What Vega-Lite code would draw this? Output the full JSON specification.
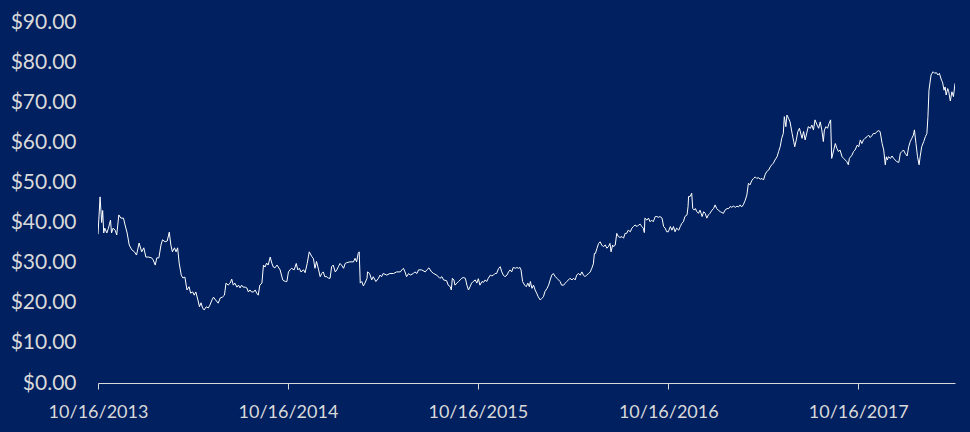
{
  "$schema": "https://vega.github.io/schema/vega-lite/v6.json",
  "width": 857,
  "height": 361,
  "autosize": {"type": "none"},
  "padding": {"left": 98, "top": 22, "right": 15, "bottom": 49},
  "background": "#002060",
  "data": {
    "values": [
      {"d": "2013/10/16", "v": 37.1}, {"d": "2013/10/20", "v": 46.4}, {"d": "2013/10/23", "v": 40.0}, {"d": "2013/10/25", "v": 43.0},
      {"d": "2013/10/27", "v": 37.4}, {"d": "2013/10/29", "v": 38.6}, {"d": "2013/11/02", "v": 37.4}, {"d": "2013/11/05", "v": 38.6},
      {"d": "2013/11/09", "v": 40.6}, {"d": "2013/11/11", "v": 37.4}, {"d": "2013/11/14", "v": 38.6}, {"d": "2013/11/18", "v": 38.1},
      {"d": "2013/11/21", "v": 36.9}, {"d": "2013/11/25", "v": 41.9}, {"d": "2013/11/29", "v": 41.1}, {"d": "2013/12/04", "v": 41.1},
      {"d": "2013/12/07", "v": 39.4}, {"d": "2013/12/11", "v": 37.4}, {"d": "2013/12/15", "v": 34.4}, {"d": "2013/12/20", "v": 33.2},
      {"d": "2013/12/25", "v": 32.7}, {"d": "2013/12/29", "v": 31.9}, {"d": "2014/01/03", "v": 34.9}, {"d": "2014/01/08", "v": 32.7},
      {"d": "2014/01/12", "v": 33.7}, {"d": "2014/01/16", "v": 31.4}, {"d": "2014/01/21", "v": 31.4}, {"d": "2014/01/27", "v": 31.2},
      {"d": "2014/01/30", "v": 30.7}, {"d": "2014/02/03", "v": 29.4}, {"d": "2014/02/06", "v": 31.2}, {"d": "2014/02/10", "v": 31.2},
      {"d": "2014/02/14", "v": 34.4}, {"d": "2014/02/17", "v": 35.7}, {"d": "2014/02/22", "v": 35.2}, {"d": "2014/02/26", "v": 35.4},
      {"d": "2014/03/02", "v": 37.6}, {"d": "2014/03/05", "v": 34.4}, {"d": "2014/03/08", "v": 32.7}, {"d": "2014/03/12", "v": 33.7},
      {"d": "2014/03/15", "v": 32.7}, {"d": "2014/03/18", "v": 33.7}, {"d": "2014/03/21", "v": 29.9}, {"d": "2014/03/25", "v": 26.9},
      {"d": "2014/03/28", "v": 26.2}, {"d": "2014/04/01", "v": 26.4}, {"d": "2014/04/05", "v": 23.2}, {"d": "2014/04/09", "v": 24.0},
      {"d": "2014/04/12", "v": 22.4}, {"d": "2014/04/16", "v": 22.7}, {"d": "2014/04/19", "v": 21.9}, {"d": "2014/04/22", "v": 22.7},
      {"d": "2014/04/26", "v": 20.7}, {"d": "2014/04/29", "v": 19.0}, {"d": "2014/05/02", "v": 20.0}, {"d": "2014/05/05", "v": 18.7},
      {"d": "2014/05/08", "v": 18.2}, {"d": "2014/05/12", "v": 19.0}, {"d": "2014/05/16", "v": 18.7}, {"d": "2014/05/19", "v": 19.4},
      {"d": "2014/05/23", "v": 20.7}, {"d": "2014/05/26", "v": 21.4}, {"d": "2014/05/30", "v": 20.7}, {"d": "2014/06/04", "v": 19.9},
      {"d": "2014/06/08", "v": 21.2}, {"d": "2014/06/12", "v": 21.4}, {"d": "2014/06/16", "v": 21.9}, {"d": "2014/06/19", "v": 24.9},
      {"d": "2014/06/23", "v": 24.4}, {"d": "2014/06/27", "v": 24.9}, {"d": "2014/06/30", "v": 25.9}, {"d": "2014/07/03", "v": 24.4},
      {"d": "2014/07/06", "v": 24.9}, {"d": "2014/07/10", "v": 23.9}, {"d": "2014/07/13", "v": 24.4}, {"d": "2014/07/16", "v": 23.7},
      {"d": "2014/07/19", "v": 24.4}, {"d": "2014/07/22", "v": 23.9}, {"d": "2014/07/26", "v": 23.9}, {"d": "2014/07/29", "v": 23.7},
      {"d": "2014/08/01", "v": 22.7}, {"d": "2014/08/04", "v": 23.2}, {"d": "2014/08/07", "v": 22.7}, {"d": "2014/08/11", "v": 22.7},
      {"d": "2014/08/14", "v": 23.2}, {"d": "2014/08/17", "v": 22.4}, {"d": "2014/08/20", "v": 21.9}, {"d": "2014/08/23", "v": 24.4},
      {"d": "2014/08/27", "v": 24.9}, {"d": "2014/08/30", "v": 29.4}, {"d": "2014/09/02", "v": 28.9}, {"d": "2014/09/05", "v": 29.9},
      {"d": "2014/09/08", "v": 29.4}, {"d": "2014/09/12", "v": 31.4}, {"d": "2014/09/15", "v": 29.9}, {"d": "2014/09/18", "v": 28.9},
      {"d": "2014/09/21", "v": 28.7}, {"d": "2014/09/25", "v": 29.4}, {"d": "2014/10/01", "v": 28.2}, {"d": "2014/10/06", "v": 25.7},
      {"d": "2014/10/11", "v": 25.3}, {"d": "2014/10/14", "v": 25.3}, {"d": "2014/10/17", "v": 27.7}, {"d": "2014/10/20", "v": 28.2},
      {"d": "2014/10/23", "v": 28.6}, {"d": "2014/10/28", "v": 28.2}, {"d": "2014/11/01", "v": 29.8}, {"d": "2014/11/04", "v": 28.2},
      {"d": "2014/11/07", "v": 28.6}, {"d": "2014/11/10", "v": 27.7}, {"d": "2014/11/15", "v": 28.2}, {"d": "2014/11/18", "v": 27.5},
      {"d": "2014/11/22", "v": 29.8}, {"d": "2014/11/26", "v": 32.7}, {"d": "2014/12/01", "v": 31.5}, {"d": "2014/12/04", "v": 31.0},
      {"d": "2014/12/07", "v": 28.6}, {"d": "2014/12/10", "v": 30.3}, {"d": "2014/12/14", "v": 28.2}, {"d": "2014/12/17", "v": 26.5},
      {"d": "2014/12/20", "v": 27.3}, {"d": "2014/12/23", "v": 27.7}, {"d": "2014/12/26", "v": 26.5}, {"d": "2014/12/30", "v": 26.5},
      {"d": "2015/01/02", "v": 26.1}, {"d": "2015/01/05", "v": 26.1}, {"d": "2015/01/08", "v": 29.0}, {"d": "2015/01/11", "v": 29.4},
      {"d": "2015/01/15", "v": 27.7}, {"d": "2015/01/18", "v": 28.2}, {"d": "2015/01/21", "v": 29.0}, {"d": "2015/01/24", "v": 29.8},
      {"d": "2015/01/27", "v": 29.4}, {"d": "2015/01/31", "v": 28.6}, {"d": "2015/02/03", "v": 29.8}, {"d": "2015/02/06", "v": 30.0},
      {"d": "2015/02/12", "v": 30.2}, {"d": "2015/02/19", "v": 30.2}, {"d": "2015/02/22", "v": 31.1}, {"d": "2015/02/25", "v": 30.2},
      {"d": "2015/02/28", "v": 32.3}, {"d": "2015/03/02", "v": 32.7}, {"d": "2015/03/04", "v": 24.9}, {"d": "2015/03/07", "v": 25.3},
      {"d": "2015/03/10", "v": 24.2}, {"d": "2015/03/13", "v": 24.9}, {"d": "2015/03/17", "v": 26.1}, {"d": "2015/03/18", "v": 27.7},
      {"d": "2015/03/22", "v": 27.3}, {"d": "2015/03/26", "v": 25.7}, {"d": "2015/03/29", "v": 26.5}, {"d": "2015/04/03", "v": 25.3},
      {"d": "2015/04/08", "v": 26.1}, {"d": "2015/04/11", "v": 26.9}, {"d": "2015/04/14", "v": 26.5}, {"d": "2015/04/17", "v": 27.3},
      {"d": "2015/04/24", "v": 26.9}, {"d": "2015/04/30", "v": 27.3}, {"d": "2015/05/07", "v": 27.3}, {"d": "2015/05/13", "v": 27.7},
      {"d": "2015/05/20", "v": 27.7}, {"d": "2015/05/23", "v": 28.2}, {"d": "2015/05/26", "v": 28.6}, {"d": "2015/05/29", "v": 27.7},
      {"d": "2015/06/01", "v": 26.5}, {"d": "2015/06/05", "v": 27.3}, {"d": "2015/06/08", "v": 26.9}, {"d": "2015/06/14", "v": 27.3},
      {"d": "2015/06/17", "v": 27.7}, {"d": "2015/06/21", "v": 27.3}, {"d": "2015/06/24", "v": 28.2}, {"d": "2015/06/30", "v": 28.2},
      {"d": "2015/07/07", "v": 27.7}, {"d": "2015/07/10", "v": 28.2}, {"d": "2015/07/14", "v": 28.7}, {"d": "2015/07/19", "v": 27.7},
      {"d": "2015/07/23", "v": 27.3}, {"d": "2015/07/29", "v": 26.9}, {"d": "2015/08/04", "v": 26.1}, {"d": "2015/08/08", "v": 26.5},
      {"d": "2015/08/11", "v": 25.7}, {"d": "2015/08/17", "v": 25.5}, {"d": "2015/08/20", "v": 24.4}, {"d": "2015/08/24", "v": 24.0},
      {"d": "2015/08/26", "v": 23.2}, {"d": "2015/08/28", "v": 26.1}, {"d": "2015/08/31", "v": 25.7}, {"d": "2015/09/02", "v": 24.4},
      {"d": "2015/09/06", "v": 24.9}, {"d": "2015/09/09", "v": 25.3}, {"d": "2015/09/12", "v": 25.7}, {"d": "2015/09/15", "v": 26.1},
      {"d": "2015/09/18", "v": 26.3}, {"d": "2015/09/22", "v": 26.1}, {"d": "2015/09/25", "v": 24.4}, {"d": "2015/09/28", "v": 23.2},
      {"d": "2015/10/01", "v": 24.0}, {"d": "2015/10/04", "v": 24.9}, {"d": "2015/10/07", "v": 25.3}, {"d": "2015/10/11", "v": 25.7},
      {"d": "2015/10/14", "v": 24.9}, {"d": "2015/10/17", "v": 26.0}, {"d": "2015/10/20", "v": 24.4}, {"d": "2015/10/24", "v": 25.3},
      {"d": "2015/10/27", "v": 25.1}, {"d": "2015/10/30", "v": 25.7}, {"d": "2015/11/02", "v": 25.3}, {"d": "2015/11/05", "v": 26.1},
      {"d": "2015/11/09", "v": 26.9}, {"d": "2015/11/12", "v": 26.7}, {"d": "2015/11/15", "v": 26.9}, {"d": "2015/11/18", "v": 27.3},
      {"d": "2015/11/21", "v": 27.3}, {"d": "2015/11/25", "v": 28.6}, {"d": "2015/11/28", "v": 29.0}, {"d": "2015/12/01", "v": 27.7},
      {"d": "2015/12/04", "v": 26.9}, {"d": "2015/12/07", "v": 26.5}, {"d": "2015/12/11", "v": 26.9}, {"d": "2015/12/14", "v": 27.7},
      {"d": "2015/12/17", "v": 28.2}, {"d": "2015/12/20", "v": 27.7}, {"d": "2015/12/23", "v": 28.8}, {"d": "2015/12/27", "v": 28.6},
      {"d": "2015/12/30", "v": 28.8}, {"d": "2016/01/02", "v": 28.6}, {"d": "2016/01/05", "v": 28.8}, {"d": "2016/01/07", "v": 28.2},
      {"d": "2016/01/10", "v": 25.3}, {"d": "2016/01/14", "v": 24.4}, {"d": "2016/01/17", "v": 24.0}, {"d": "2016/01/20", "v": 24.9},
      {"d": "2016/01/23", "v": 24.0}, {"d": "2016/01/25", "v": 25.3}, {"d": "2016/01/28", "v": 23.6}, {"d": "2016/01/31", "v": 24.4},
      {"d": "2016/02/03", "v": 23.2}, {"d": "2016/02/06", "v": 22.4}, {"d": "2016/02/09", "v": 21.5}, {"d": "2016/02/13", "v": 20.7},
      {"d": "2016/02/16", "v": 21.1}, {"d": "2016/02/19", "v": 21.5}, {"d": "2016/02/22", "v": 22.8}, {"d": "2016/02/26", "v": 23.6},
      {"d": "2016/02/29", "v": 24.4}, {"d": "2016/03/03", "v": 25.7}, {"d": "2016/03/06", "v": 26.9}, {"d": "2016/03/09", "v": 27.3},
      {"d": "2016/03/13", "v": 26.5}, {"d": "2016/03/16", "v": 26.1}, {"d": "2016/03/19", "v": 25.7}, {"d": "2016/03/22", "v": 25.3},
      {"d": "2016/03/25", "v": 24.4}, {"d": "2016/03/29", "v": 24.4}, {"d": "2016/04/01", "v": 24.9}, {"d": "2016/04/04", "v": 25.3},
      {"d": "2016/04/07", "v": 25.7}, {"d": "2016/04/10", "v": 26.1}, {"d": "2016/04/14", "v": 25.7}, {"d": "2016/04/17", "v": 26.1},
      {"d": "2016/04/20", "v": 25.7}, {"d": "2016/04/23", "v": 26.9}, {"d": "2016/04/26", "v": 27.3}, {"d": "2016/04/30", "v": 26.9},
      {"d": "2016/05/03", "v": 27.7}, {"d": "2016/05/06", "v": 26.9}, {"d": "2016/05/09", "v": 26.5}, {"d": "2016/05/12", "v": 26.9},
      {"d": "2016/05/16", "v": 27.3}, {"d": "2016/05/19", "v": 27.7}, {"d": "2016/05/22", "v": 28.6}, {"d": "2016/05/25", "v": 29.7},
      {"d": "2016/05/27", "v": 32.3}, {"d": "2016/05/29", "v": 32.3}, {"d": "2016/06/01", "v": 33.6}, {"d": "2016/06/04", "v": 34.8},
      {"d": "2016/06/07", "v": 35.2}, {"d": "2016/06/10", "v": 34.4}, {"d": "2016/06/13", "v": 34.0}, {"d": "2016/06/17", "v": 34.4},
      {"d": "2016/06/20", "v": 33.6}, {"d": "2016/06/23", "v": 34.0}, {"d": "2016/06/26", "v": 34.8}, {"d": "2016/06/28", "v": 32.7},
      {"d": "2016/07/01", "v": 34.4}, {"d": "2016/07/03", "v": 34.0}, {"d": "2016/07/06", "v": 34.4}, {"d": "2016/07/09", "v": 37.3},
      {"d": "2016/07/12", "v": 36.5}, {"d": "2016/07/15", "v": 36.3}, {"d": "2016/07/19", "v": 36.5}, {"d": "2016/07/22", "v": 36.1},
      {"d": "2016/07/25", "v": 37.3}, {"d": "2016/07/28", "v": 37.3}, {"d": "2016/07/31", "v": 38.1}, {"d": "2016/08/04", "v": 37.7},
      {"d": "2016/08/07", "v": 38.6}, {"d": "2016/08/10", "v": 39.0}, {"d": "2016/08/13", "v": 39.4}, {"d": "2016/08/17", "v": 39.0},
      {"d": "2016/08/20", "v": 39.4}, {"d": "2016/08/23", "v": 39.6}, {"d": "2016/08/26", "v": 39.0}, {"d": "2016/08/29", "v": 38.6},
      {"d": "2016/08/31", "v": 37.5}, {"d": "2016/09/01", "v": 41.1}, {"d": "2016/09/05", "v": 40.6}, {"d": "2016/09/08", "v": 41.1},
      {"d": "2016/09/11", "v": 40.2}, {"d": "2016/09/14", "v": 40.6}, {"d": "2016/09/17", "v": 40.2}, {"d": "2016/09/21", "v": 41.5},
      {"d": "2016/09/24", "v": 41.5}, {"d": "2016/09/27", "v": 41.3}, {"d": "2016/09/30", "v": 41.5}, {"d": "2016/10/04", "v": 41.1},
      {"d": "2016/10/07", "v": 39.0}, {"d": "2016/10/10", "v": 38.6}, {"d": "2016/10/13", "v": 37.7}, {"d": "2016/10/16", "v": 37.7},
      {"d": "2016/10/20", "v": 39.0}, {"d": "2016/10/23", "v": 38.1}, {"d": "2016/10/26", "v": 39.0}, {"d": "2016/10/29", "v": 37.7},
      {"d": "2016/11/01", "v": 38.6}, {"d": "2016/11/05", "v": 38.1}, {"d": "2016/11/08", "v": 39.0}, {"d": "2016/11/11", "v": 39.8},
      {"d": "2016/11/14", "v": 40.2}, {"d": "2016/11/17", "v": 41.5}, {"d": "2016/11/21", "v": 41.9}, {"d": "2016/11/23", "v": 44.0},
      {"d": "2016/11/24", "v": 46.5}, {"d": "2016/11/27", "v": 46.5}, {"d": "2016/11/30", "v": 47.3}, {"d": "2016/12/02", "v": 43.5},
      {"d": "2016/12/05", "v": 43.1}, {"d": "2016/12/07", "v": 43.5}, {"d": "2016/12/10", "v": 42.7}, {"d": "2016/12/13", "v": 42.3},
      {"d": "2016/12/16", "v": 43.1}, {"d": "2016/12/20", "v": 41.5}, {"d": "2016/12/23", "v": 42.7}, {"d": "2016/12/26", "v": 42.3},
      {"d": "2016/12/29", "v": 41.1}, {"d": "2017/01/01", "v": 41.9}, {"d": "2017/01/04", "v": 42.3}, {"d": "2017/01/08", "v": 43.1},
      {"d": "2017/01/11", "v": 43.5}, {"d": "2017/01/14", "v": 44.4}, {"d": "2017/01/17", "v": 43.5}, {"d": "2017/01/20", "v": 43.1},
      {"d": "2017/01/24", "v": 42.7}, {"d": "2017/01/27", "v": 42.5}, {"d": "2017/01/30", "v": 42.3}, {"d": "2017/02/02", "v": 43.1},
      {"d": "2017/02/06", "v": 43.5}, {"d": "2017/02/09", "v": 43.5}, {"d": "2017/02/12", "v": 44.0}, {"d": "2017/02/15", "v": 43.8},
      {"d": "2017/02/18", "v": 44.1}, {"d": "2017/02/22", "v": 43.8}, {"d": "2017/02/25", "v": 44.1}, {"d": "2017/02/28", "v": 43.9},
      {"d": "2017/03/03", "v": 44.4}, {"d": "2017/03/06", "v": 43.9}, {"d": "2017/03/09", "v": 44.4}, {"d": "2017/03/13", "v": 45.6},
      {"d": "2017/03/16", "v": 46.9}, {"d": "2017/03/19", "v": 49.8}, {"d": "2017/03/22", "v": 49.4}, {"d": "2017/03/26", "v": 50.6},
      {"d": "2017/03/29", "v": 51.0}, {"d": "2017/04/01", "v": 51.4}, {"d": "2017/04/04", "v": 51.0}, {"d": "2017/04/07", "v": 51.2},
      {"d": "2017/04/11", "v": 50.8}, {"d": "2017/04/14", "v": 51.0}, {"d": "2017/04/17", "v": 50.6}, {"d": "2017/04/20", "v": 51.9},
      {"d": "2017/04/23", "v": 52.7}, {"d": "2017/04/27", "v": 53.1}, {"d": "2017/04/30", "v": 53.9}, {"d": "2017/05/03", "v": 54.4},
      {"d": "2017/05/06", "v": 54.8}, {"d": "2017/05/09", "v": 55.6}, {"d": "2017/05/13", "v": 56.4}, {"d": "2017/05/16", "v": 57.7},
      {"d": "2017/05/19", "v": 58.9}, {"d": "2017/05/22", "v": 61.0}, {"d": "2017/05/25", "v": 62.2}, {"d": "2017/05/27", "v": 66.4},
      {"d": "2017/05/30", "v": 63.9}, {"d": "2017/06/01", "v": 66.8}, {"d": "2017/06/04", "v": 66.0}, {"d": "2017/06/07", "v": 65.1},
      {"d": "2017/06/11", "v": 62.2}, {"d": "2017/06/14", "v": 60.2}, {"d": "2017/06/16", "v": 58.9}, {"d": "2017/06/19", "v": 60.6},
      {"d": "2017/06/22", "v": 62.7}, {"d": "2017/06/25", "v": 63.5}, {"d": "2017/06/30", "v": 61.0}, {"d": "2017/07/03", "v": 62.7},
      {"d": "2017/07/06", "v": 60.6}, {"d": "2017/07/12", "v": 63.9}, {"d": "2017/07/16", "v": 63.5}, {"d": "2017/07/19", "v": 64.3},
      {"d": "2017/07/22", "v": 63.1}, {"d": "2017/07/25", "v": 65.6}, {"d": "2017/07/29", "v": 64.3}, {"d": "2017/08/01", "v": 63.5},
      {"d": "2017/08/04", "v": 65.1}, {"d": "2017/08/07", "v": 63.1}, {"d": "2017/08/10", "v": 60.2}, {"d": "2017/08/12", "v": 63.1},
      {"d": "2017/08/15", "v": 63.9}, {"d": "2017/08/18", "v": 63.5}, {"d": "2017/08/21", "v": 64.7}, {"d": "2017/08/24", "v": 65.6},
      {"d": "2017/08/26", "v": 56.0}, {"d": "2017/08/30", "v": 58.1}, {"d": "2017/09/02", "v": 59.7}, {"d": "2017/09/05", "v": 58.5},
      {"d": "2017/09/08", "v": 57.7}, {"d": "2017/09/11", "v": 58.1}, {"d": "2017/09/15", "v": 56.4}, {"d": "2017/09/18", "v": 56.0},
      {"d": "2017/09/21", "v": 55.6}, {"d": "2017/09/24", "v": 55.2}, {"d": "2017/09/27", "v": 54.4}, {"d": "2017/09/29", "v": 56.0},
      {"d": "2017/10/04", "v": 56.8}, {"d": "2017/10/07", "v": 57.7}, {"d": "2017/10/10", "v": 58.1}, {"d": "2017/10/14", "v": 59.3},
      {"d": "2017/10/17", "v": 58.9}, {"d": "2017/10/20", "v": 60.6}, {"d": "2017/10/23", "v": 59.7}, {"d": "2017/10/26", "v": 60.6},
      {"d": "2017/10/29", "v": 61.0}, {"d": "2017/11/02", "v": 61.4}, {"d": "2017/11/05", "v": 61.8}, {"d": "2017/11/08", "v": 61.2},
      {"d": "2017/11/11", "v": 61.6}, {"d": "2017/11/14", "v": 62.2}, {"d": "2017/11/18", "v": 62.2}, {"d": "2017/11/21", "v": 62.7},
      {"d": "2017/11/24", "v": 62.9}, {"d": "2017/11/27", "v": 62.7}, {"d": "2017/12/01", "v": 59.7}, {"d": "2017/12/04", "v": 58.1},
      {"d": "2017/12/07", "v": 54.4}, {"d": "2017/12/09", "v": 56.4}, {"d": "2017/12/11", "v": 55.6}, {"d": "2017/12/13", "v": 56.4},
      {"d": "2017/12/17", "v": 56.0}, {"d": "2017/12/20", "v": 56.6}, {"d": "2017/12/23", "v": 56.0}, {"d": "2017/12/26", "v": 55.6},
      {"d": "2017/12/29", "v": 55.2}, {"d": "2018/01/02", "v": 55.0}, {"d": "2018/01/05", "v": 57.3}, {"d": "2018/01/08", "v": 57.7},
      {"d": "2018/01/11", "v": 58.1}, {"d": "2018/01/14", "v": 57.3}, {"d": "2018/01/18", "v": 56.6}, {"d": "2018/01/21", "v": 58.9},
      {"d": "2018/01/24", "v": 60.2}, {"d": "2018/01/27", "v": 61.0}, {"d": "2018/01/30", "v": 61.8}, {"d": "2018/02/01", "v": 63.1},
      {"d": "2018/02/04", "v": 59.7}, {"d": "2018/02/07", "v": 56.4}, {"d": "2018/02/10", "v": 54.4}, {"d": "2018/02/12", "v": 56.4},
      {"d": "2018/02/15", "v": 58.9}, {"d": "2018/02/19", "v": 60.2}, {"d": "2018/02/22", "v": 61.4}, {"d": "2018/02/25", "v": 62.2},
      {"d": "2018/02/27", "v": 66.4}, {"d": "2018/03/01", "v": 73.0}, {"d": "2018/03/05", "v": 76.8}, {"d": "2018/03/09", "v": 77.6},
      {"d": "2018/03/12", "v": 77.2}, {"d": "2018/03/15", "v": 77.4}, {"d": "2018/03/18", "v": 76.8}, {"d": "2018/03/21", "v": 77.2},
      {"d": "2018/03/25", "v": 75.5}, {"d": "2018/03/27", "v": 75.0}, {"d": "2018/03/30", "v": 73.0}, {"d": "2018/04/01", "v": 73.8},
      {"d": "2018/04/03", "v": 71.8}, {"d": "2018/04/06", "v": 73.4}, {"d": "2018/04/08", "v": 72.6}, {"d": "2018/04/11", "v": 70.3},
      {"d": "2018/04/14", "v": 72.6}, {"d": "2018/04/17", "v": 71.4}, {"d": "2018/04/20", "v": 74.7}
    ]
  },
  "mark": {"type": "line", "color": "#ffffff", "strokeWidth": 1, "clip": true},
  "encoding": {
    "x": {
      "field": "d",
      "type": "temporal",
      "scale": {
        "domain": [{"year": 2013, "month": 10, "date": 16}, {"year": 2018, "month": 4, "date": 20}],
        "nice": false
      },
      "axis": {
        "title": null,
        "values": [
          {"year": 2013, "month": 10, "date": 16},
          {"year": 2014, "month": 10, "date": 16},
          {"year": 2015, "month": 10, "date": 16},
          {"year": 2016, "month": 10, "date": 16},
          {"year": 2017, "month": 10, "date": 16}
        ],
        "format": "%m/%d/%Y",
        "grid": false,
        "domainColor": "#d9d9d9",
        "domainWidth": 1,
        "tickColor": "#d9d9d9",
        "tickSize": 6,
        "tickWidth": 1,
        "labelPadding": 14,
        "labelFontSize": 18,
        "labelFlush": false,
        "labelOverlap": false
      }
    },
    "y": {
      "field": "v",
      "type": "quantitative",
      "scale": {"domain": [0, 90], "nice": false, "zero": true},
      "axis": {
        "title": null,
        "values": [0, 10, 20, 30, 40, 50, 60, 70, 80, 90],
        "format": "$.2f",
        "grid": false,
        "domain": false,
        "ticks": false,
        "tickSize": 0,
        "labelPadding": 22,
        "labelFontSize": 21
      }
    }
  },
  "config": {
    "view": {"stroke": null},
    "axis": {
      "labelFont": "Lato",
      "labelColor": "#d9d9d9",
      "labelFontWeight": "normal"
    }
  }
}
